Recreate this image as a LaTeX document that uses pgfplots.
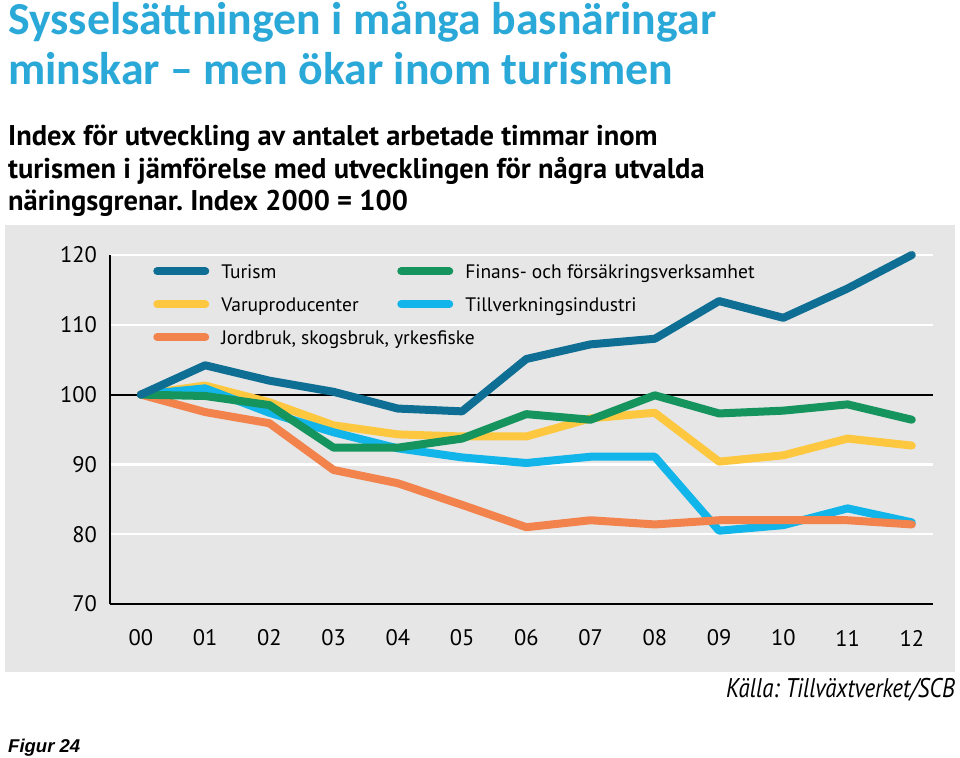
\documentclass[border=0pt]{standalone}
\usepackage{pgfplots}
\pgfplotsset{compat=1.18}
\usepackage{fontspec}
\setmainfont{PT Sans}
\newfontfamily\titlefont{Carlito}
\newfontfamily\arialfont{Liberation Sans}
\frenchspacing

\definecolor{bggray}{HTML}{E6E6E6}
\definecolor{titleblue}{HTML}{2AA8D8}
\definecolor{turism}{HTML}{0F6E93}
\definecolor{finans}{HTML}{15945E}
\definecolor{varu}{HTML}{FDC840}
\definecolor{tillv}{HTML}{11B5EA}
\definecolor{jord}{HTML}{F2834D}

\begin{document}
\begin{tikzpicture}[x=1pt,y=1pt]
\path[use as bounding box] (0,0) rectangle (960,-757);
\fill[white] (0,0) rectangle (960,-757);
\fill[bggray] (5,-225) rectangle (955,-672);

% titles
\node[anchor=base west, inner sep=0pt, text=titleblue,
  font=\titlefont\bfseries\fontsize{45.8}{45.8}\selectfont] at (8,-35) {Sysselsättningen i många basnäringar};
\node[anchor=base west, inner sep=0pt, text=titleblue,
  font=\titlefont\bfseries\fontsize{45.8}{45.8}\selectfont] at (8,-85) {minskar – men ökar inom turismen};
\node[anchor=base west, inner sep=0pt,
  font=\bfseries\fontsize{28.5}{28.5}\selectfont] at (8,-145) {Index för utveckling av antalet arbetade timmar inom};
\node[anchor=base west, inner sep=0pt,
  font=\bfseries\fontsize{28.5}{28.5}\selectfont] at (8,-178) {turismen i jämförelse med utvecklingen för några utvalda};
\node[anchor=base west, inner sep=0pt,
  font=\bfseries\fontsize{28.5}{28.5}\selectfont] at (8,-210) {näringsgrenar. Index 2000 = 100};
\node[anchor=base east, inner sep=0pt,
  font=\itshape\fontsize{27}{27}\selectfont] at (955,-697) {\scalebox{0.85}[1]{Källa: Tillväxtverket/SCB}};
\node[anchor=base west, inner sep=0pt,
  font=\arialfont\bfseries\itshape\fontsize{18.5}{18.5}\selectfont] at (8,-752) {Figur 24};

\begin{axis}[
  at={(110pt,-604pt)}, anchor=south west,
  width=823pt, height=349pt, scale only axis,
  xmin=-0.48, xmax=12.33, ymin=70, ymax=120,
  clip=false,
  axis lines=left,
  axis line style={-, black, line width=2pt},
  xtick={0,...,12},
  xticklabels={00,01,02,03,04,05,06,07,08,09,10,11,12},
  ytick={80,90,110,120},
  extra y ticks={70,100},
  extra y tick style={grid style={black, line width=2pt}},
  ymajorgrids,
  grid style={white, line width=2.5pt},
  major tick length=0pt,
  /pgf/number format/assume math mode=true,
  tick label style={font=\fontsize{22.5}{22.5}\selectfont},
  xticklabel style={anchor=center, inner sep=0pt, yshift=-34pt},
  yticklabel style={anchor=east, inner sep=0pt, xshift=-13pt},
  every axis plot post/.append style={line width=8pt, line cap=round, line join=round, mark=none},
  legend columns=2,
  legend image code/.code={
    \draw[line width=8pt, line cap=round] (0pt,7pt) -- (48pt,7pt);},
  legend style={at={(0.0523,0.974)}, anchor=north west, draw=none, fill=none,
    inner sep=0pt, row sep=14pt, column sep=0pt,
    nodes={inner sep=0pt, anchor=base west, text height=14pt, text depth=5pt,
      font=\fontsize{19.5}{19.5}\selectfont}},
]
% Varuproducenter
\addplot[varu, forget plot] coordinates {
  (0,100) (1,101.3) (2,98.9) (3,95.6) (4,94.3) (5,94.0) (6,94.0)
  (7,96.6) (8,97.4) (9,90.4) (10,91.3) (11,93.7) (12,92.7)};
% Tillverkningsindustri
\addplot[tillv, forget plot] coordinates {
  (0,100) (1,100.9) (2,97.4) (3,94.6) (4,92.3) (5,91.0) (6,90.2)
  (7,91.1) (8,91.1) (9,80.5) (10,81.3) (11,83.7) (12,81.7)};
% Jordbruk, skogsbruk, yrkesfiske
\addplot[jord, forget plot] coordinates {
  (0,100) (1,97.5) (2,95.9) (3,89.2) (4,87.3) (5,84.2) (6,81.0)
  (7,82.0) (8,81.4) (9,82.0) (10,82.0) (11,82.0) (12,81.4)};
% Finans- och försäkringsverksamhet
\addplot[finans, forget plot] coordinates {
  (0,100) (1,99.8) (2,98.5) (3,92.4) (4,92.4) (5,93.7) (6,97.2)
  (7,96.4) (8,99.9) (9,97.3) (10,97.7) (11,98.6) (12,96.4)};
% Turism
\addplot[turism, forget plot] coordinates {
  (0,100) (1,104.2) (2,102.0) (3,100.4) (4,98.0) (5,97.6) (6,105.1)
  (7,107.2) (8,108.0) (9,113.4) (10,111.0) (11,115.2) (12,120.0)};

\addlegendimage{turism}
\addlegendentry{\makebox[188pt][l]{\hspace{12pt}Turism}}
\addlegendimage{finans}
\addlegendentry{\makebox[188pt][l]{\hspace{12pt}Finans- och försäkringsverksamhet}}
\addlegendimage{varu}
\addlegendentry{\makebox[188pt][l]{\hspace{12pt}Varuproducenter}}
\addlegendimage{tillv}
\addlegendentry{\makebox[188pt][l]{\hspace{12pt}Tillverkningsindustri}}
\addlegendimage{jord}
\addlegendentry{\makebox[188pt][l]{\hspace{12pt}Jordbruk, skogsbruk, yrkesfiske}}
\end{axis}
\end{tikzpicture}
\end{document}
